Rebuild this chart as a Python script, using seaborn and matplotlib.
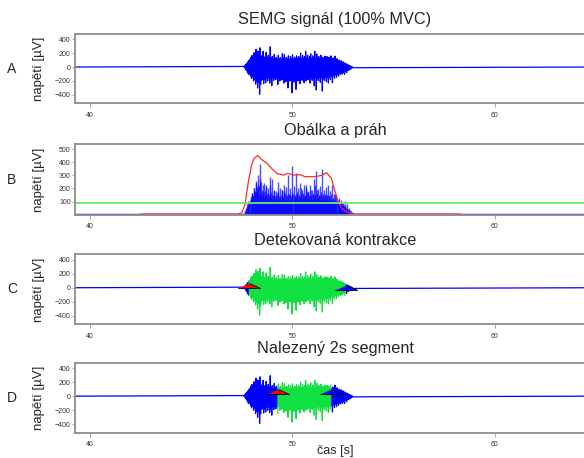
import numpy as np
import pandas as pd
import seaborn as sns
from matplotlib import pyplot as plt

# casove rozmezi zaznamu [s]
rec_start, rec_end = 39.25, 64.95
burst_start, step = 47.60, 0.05

# kladne / zaporne spicky SEMG [uV], odecteno z obrazku po 0.05 s od burst_start
peaks_pos = [8, 25, 40, 55, 75, 95, 110, 140, 165, 150, 205, 180, 255, 170, 230, 150,
             275, 160, 140, 225, 130, 150, 210, 120, 165, 130, 290, 125, 150, 110, 180, 120,
             140, 105, 170, 120, 135, 110, 190, 125, 180, 115, 140, 120, 160, 105, 150, 120,
             175, 110, 140, 125, 160, 115, 150, 130, 200, 120, 165, 125, 150, 225, 130, 170,
             120, 150, 190, 115, 160, 130, 225, 120, 185, 125, 150, 120, 170, 110, 140, 120,
             155, 115, 150, 110, 140, 105, 160, 110, 130, 100, 155, 95, 120, 85, 100, 80,
             90, 70, 75, 60, 55, 45, 40, 30, 25, 15, 10, 5]
peaks_neg = [-8, -30, -50, -80, -105, -95, -130, -165, -140, -200, -175, -245, -210, -300, -220, -390,
             -250, -190, -170, -240, -180, -225, -160, -200, -150, -230, -170, -270, -150, -190, -140, -180,
             -155, -250, -140, -200, -150, -185, -140, -230, -165, -210, -150, -300, -160, -200, -140, -370,
             -160, -215, -150, -320, -170, -200, -145, -240, -160, -190, -150, -225, -140, -200, -170, -180,
             -150, -230, -145, -190, -160, -270, -150, -330, -160, -195, -145, -220, -150, -345, -160, -190,
             -140, -210, -150, -230, -140, -180, -130, -225, -120, -160, -110, -150, -100, -130, -95, -110,
             -85, -100, -70, -105, -60, -80, -45, -50, -35, -30, -20, -10]

# obalka signalu a prah (panel B)
env_t = [42.5, 47.3, 47.5, 47.65, 47.82, 47.98, 48.1, 48.28, 48.48, 48.72, 48.97, 49.22, 49.55,
         49.79, 50.04, 50.37, 50.62, 51.11, 51.44, 51.69, 51.93, 52.10, 52.26, 52.43, 52.67,
         52.84, 53.0, 58.3]
env_v = [4, 4, 15, 75, 252, 380, 430, 452, 420, 395, 353, 315, 302, 315, 302, 305, 290, 290,
         300, 320, 276, 176, 100, 50, 20, 11, 4, 4]
threshold = 87

# detekovana kontrakce (C) a nalezeny segment (D)
onset_c, offset_c = 47.85, 52.65
seg_start, seg_end = 49.27, 51.92
tri_y_c = [-10, -30]
tri_y_d = [30, 35]

titles = ["SEMG signál (100% MVC)", "Obálka a práh", "Detekovaná kontrakce", "Nalezený 2s segment"]
letters = ["A", "B", "C", "D"]

t_b = burst_start + step * np.arange(len(peaks_pos))
t = np.concatenate([[rec_start], np.column_stack([t_b, t_b + step / 2]).ravel(), [rec_end]])
v = np.concatenate([[0], np.column_stack([peaks_pos, peaks_neg]).ravel(), [0]])
df = pd.DataFrame({"t": t, "v": v})

sns.set_theme(style="white")
plt.rcParams["font.family"] = ["Liberation Sans", "DejaVu Sans"]

BLUE, GREEN, RED = "#0000ff", "#10e040", "#ff2a2a"
tri = [(-1, 0), (1, 0), (0, 0.45)]

fig = plt.figure(figsize=(5.84, 4.58), dpi=100)
boxes = [(0.1284, 0.7745, 0.8904, 0.1515),
         (0.1284, 0.5306, 0.8904, 0.1544),
         (0.1284, 0.2919, 0.8904, 0.1528),
         (0.1284, 0.0552, 0.8904, 0.1528)]
axes = [fig.add_axes(b) for b in boxes]


def draw_signal(ax, lo=None, hi=None):
    if lo is None:
        sns.lineplot(data=df, x="t", y="v", ax=ax, color=BLUE, lw=0.9, estimator=None)
        return
    inside = (df.t >= lo) & (df.t <= hi)
    sns.lineplot(data=df[df.t <= lo], x="t", y="v", ax=ax, color=BLUE, lw=0.9, estimator=None)
    sns.lineplot(data=df[df.t >= hi], x="t", y="v", ax=ax, color=BLUE, lw=0.9, estimator=None)
    sns.lineplot(data=df[inside], x="t", y="v", ax=ax, color=GREEN, lw=0.9, estimator=None)


def marker(ax, x, y, fc):
    ax.plot([x], [y], marker=tri, ms=16, mfc=fc, mec="black", mew=0.6, ls="none", zorder=5)


# A
draw_signal(axes[0])

# B
ax = axes[1]
ax.plot([rec_start, rec_end], [4, 4], color=BLUE, lw=1)
ax.vlines(df.t, 0, df.v.abs(), color=BLUE, lw=1.0, alpha=0.7)
sns.lineplot(x=env_t, y=env_v, ax=ax, color=RED, lw=0.9, estimator=None)
ax.axhline(threshold, color="#66ee66", lw=1.3)

# C
draw_signal(axes[2], onset_c, offset_c)
marker(axes[2], onset_c, tri_y_c[0], "red")
marker(axes[2], offset_c, tri_y_c[1], BLUE)

# D
draw_signal(axes[3], seg_start, seg_end)
marker(axes[3], seg_start, tri_y_d[0], "red")
marker(axes[3], seg_end, tri_y_d[1], BLUE)

for i, ax in enumerate(axes):
    ax.set_xlim(rec_start, rec_end)
    if i == 1:
        ax.set_ylim(-3, 538)
        ax.set_yticks([100, 200, 300, 400, 500])
    else:
        ax.set_ylim(-520, 475)
        ax.set_yticks([-400, -200, 0, 200, 400])
    ax.set_xticks([40, 50, 60])
    ax.set_xlabel("")
    ax.set_ylabel("napětí [µV]", fontsize=9.5)
    ax.yaxis.set_label_coords(-0.058, 0.5)
    ax.set_title(titles[i], fontsize=11.7, pad=7)
    for s in ax.spines.values():
        s.set_color("#8c8c8c")
        s.set_linewidth(1.3)
    ax.tick_params(axis="x", bottom=True, length=3, width=0.6, color="#999999",
                   labelsize=5, labelcolor="#333333", pad=3)
    ax.tick_params(axis="y", left=True, length=2, width=0.6, color="#999999",
                   labelsize=5, labelcolor="#333333", pad=1)
    b = boxes[i]
    fig.text(12 / 584, b[1] + b[3] / 2, letters[i], fontsize=10, ha="center", va="center")

fig.text(335 / 584, 1 - 451 / 458, "čas [s]", fontsize=9, ha="center", va="center")

fig.savefig("out.png", dpi=100)
